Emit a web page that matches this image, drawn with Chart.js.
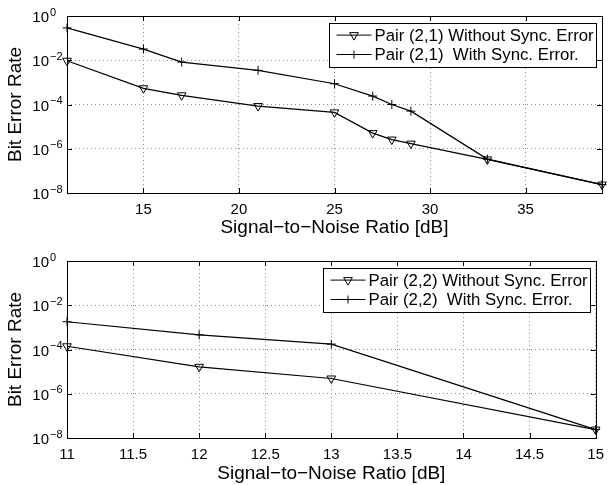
<!DOCTYPE html>
<html>
<head>
<meta charset="utf-8">
<script src="https://cdn.jsdelivr.net/npm/chart.js@4.4.0/dist/chart.umd.min.js"></script>
<style>
  html, body { margin: 0; padding: 0; background: #fff; }
  canvas { display: block; }
</style>
</head>
<body>
<canvas id="topChart" width="612" height="243"></canvas>
<canvas id="bottomChart" width="612" height="242"></canvas>
<script>
// top panel: pair (2,1)
const snrTop = [11, 15, 17, 21, 25, 27, 28, 29, 33, 39];
const berTopNoSync = [9.5e-3, 5.4e-4, 2.6e-4, 8.5e-5, 4.4e-5, 5.1e-6, 2.6e-6, 1.7e-6, 3.3e-7, 2.4e-8];
const berTopSync = [2.9e-1, 3.2e-2, 8.3e-3, 3.5e-3, 8.7e-4, 2.4e-4, 1.0e-4, 5.0e-5, 3.4e-7, 2.4e-8];
const labelsTop = ['Pair (2,1) Without Sync. Error', 'Pair (2,1)  With Sync. Error.'];

// bottom panel: pair (2,2)
const snrBottom = [11, 12, 13, 15];
const berBottomNoSync = [1.4e-4, 1.65e-5, 4.9e-6, 2.4e-8];
const berBottomSync = [1.8e-3, 4.6e-4, 1.75e-4, 2.4e-8];
const labelsBottom = ['Pair (2,2) Without Sync. Error', 'Pair (2,2)  With Sync. Error.'];

const xTicksTop = [15, 20, 25, 30, 35];
const xTicksBottom = [11, 11.5, 12, 12.5, 13, 13.5, 14, 14.5, 15];
const yTicks = [1e-8, 1e-6, 1e-4, 1e-2, 1];

const FONT = '"Liberation Sans", Arial, Helvetica, sans-serif';

function drawMarker(ctx, style, x, y) {
  ctx.beginPath();
  if (style === 'tri') {
    const r = 5;
    ctx.moveTo(x, y + r);
    ctx.lineTo(x - r * 0.866, y - r / 2);
    ctx.lineTo(x + r * 0.866, y - r / 2);
    ctx.closePath();
  } else {
    ctx.moveTo(x - 4, y); ctx.lineTo(x + 4, y);
    ctx.moveTo(x, y - 4); ctx.lineTo(x, y + 4);
  }
  ctx.stroke();
}

// box, inward ticks, 10^n labels and the legend, drawn like matlab does
const frame = {
  id: 'frame',
  afterDatasetsDraw(chart) {
    const { ctx, chartArea: a } = chart;
    const x = chart.scales.x, y = chart.scales.y;
    ctx.save();
    ctx.strokeStyle = '#000';
    ctx.lineWidth = 1;
    ctx.beginPath();
    x.ticks.forEach(t => {
      const px = Math.round(x.getPixelForValue(t.value)) + 0.5;
      ctx.moveTo(px, a.bottom); ctx.lineTo(px, a.bottom - 5);
      ctx.moveTo(px, a.top); ctx.lineTo(px, a.top + 5);
    });
    y.ticks.forEach(t => {
      const py = Math.round(y.getPixelForValue(t.value)) + 0.5;
      ctx.moveTo(a.left, py); ctx.lineTo(a.left + 5, py);
      ctx.moveTo(a.right, py); ctx.lineTo(a.right - 5, py);
    });
    ctx.stroke();
    ctx.strokeRect(Math.round(a.left) + 0.5, Math.round(a.top) + 0.5,
      Math.round(a.right - a.left), Math.round(a.bottom - a.top));

    ctx.fillStyle = '#000';
    y.ticks.forEach(t => {
      const py = y.getPixelForValue(t.value);
      const e = Math.round(Math.log10(t.value));
      ctx.font = '15px ' + FONT;
      ctx.textAlign = 'right';
      ctx.textBaseline = 'alphabetic';
      ctx.fillText('10', 49, py + 6);
      ctx.font = '11px ' + FONT;
      ctx.textAlign = 'left';
      ctx.fillText(e === 0 ? '0' : '\u2212' + (-e), 50, py - 0.5);
    });

    // legend
    const bw = 267, bh = 44;
    const bx = Math.round(a.right - 6 - bw) + 0.5, by = Math.round(a.top + 6.5) + 0.5;
    ctx.fillStyle = '#fff';
    ctx.fillRect(bx, by, bw, bh);
    ctx.strokeRect(bx, by, bw, bh);
    const styles = ['tri', 'cross'];
    chart.data.datasets.forEach((ds, i) => {
      const ry = by + 11.6 + i * 19.4;
      ctx.beginPath();
      ctx.moveTo(bx + 7, ry); ctx.lineTo(bx + 42, ry);
      ctx.stroke();
      drawMarker(ctx, styles[i], bx + 24.5, ry);
      ctx.fillStyle = '#000';
      ctx.font = '16.8px ' + FONT;
      ctx.textAlign = 'left';
      ctx.textBaseline = 'middle';
      ctx.fillText(ds.label, bx + 45, ry + 1);
    });
    ctx.restore();
  }
};

function series(label, xs, ys, style) {
  return {
    label: label,
    data: xs.map((v, i) => ({ x: v, y: ys[i] })),
    borderColor: '#000',
    borderWidth: 1.2,
    pointStyle: style === 'tri' ? 'triangle' : 'cross',
    pointRotation: style === 'tri' ? 180 : 0,
    pointRadius: style === 'tri' ? 5 : 4.5,
    pointBorderColor: '#000',
    pointBackgroundColor: 'rgba(0,0,0,0)',
    pointBorderWidth: 1,
    tension: 0,
    clip: false
  };
}

function makeChart(id, xs, noSync, sync, labels, xMin, xMax, xTicks, padTop, xHeight, titlePad) {
  const gridStyle = { color: '#8a8a8a', lineWidth: 1, drawTicks: false };
  return new Chart(document.getElementById(id), {
    type: 'line',
    data: {
      datasets: [
        series(labels[0], xs, noSync, 'tri'),
        series(labels[1], xs, sync, 'cross')
      ]
    },
    options: {
      responsive: false,
      animation: false,
      layout: { padding: { top: padTop, right: 10, left: 0, bottom: 0 } },
      plugins: { legend: { display: false }, tooltip: { enabled: false } },
      scales: {
        x: {
          type: 'linear',
          min: xMin, max: xMax,
          afterBuildTicks: s => { s.ticks = xTicks.map(v => ({ value: v })); },
          afterFit: s => { s.height = xHeight; },
          grid: gridStyle,
          border: { display: false, dash: [1, 3] },
          ticks: {
            color: '#000', padding: 8, maxRotation: 0, autoSkip: false,
            font: { family: FONT, size: 15 },
            callback: v => String(v)
          },
          title: {
            display: true, text: 'Signal\u2212to\u2212Noise Ratio [dB]', color: '#000',
            font: { family: FONT, size: 19 }, padding: { top: 0, bottom: titlePad }
          }
        },
        y: {
          type: 'logarithmic',
          min: 1e-8, max: 1,
          afterBuildTicks: s => { s.ticks = yTicks.map(v => ({ value: v })); },
          afterFit: s => { s.width = 67; },
          grid: gridStyle,
          border: { display: false, dash: [1, 3] },
          ticks: { display: false },
          title: {
            display: true, text: 'Bit Error Rate', color: '#000',
            font: { family: FONT, size: 19 }, padding: { top: 4, bottom: 0 }
          }
        }
      }
    },
    plugins: [frame]
  });
}

makeChart('topChart', snrTop, berTopNoSync, berTopSync, labelsTop, 11, 39, xTicksTop, 16, 50, 4);
makeChart('bottomChart', snrBottom, berBottomNoSync, berBottomSync, labelsBottom, 11, 15, xTicksBottom, 18, 47, 0);
</script>
</body>
</html>
